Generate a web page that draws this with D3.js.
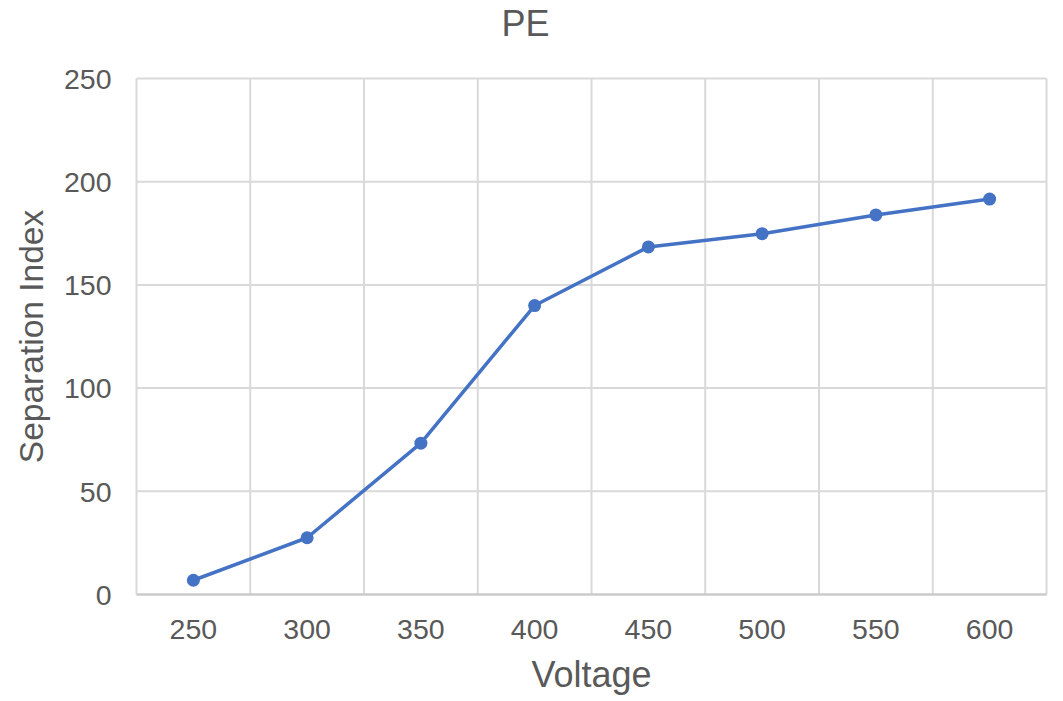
<!DOCTYPE html>
<meta charset="utf-8">
<script src="https://d3js.org/d3.v7.min.js"></script>
<style>
  body { margin: 0; background: #fff; }
  text { font-family: "Liberation Sans", Arial, sans-serif; fill: #595959; }
</style>
<div id="chart"></div>
<script>

// data
var voltages = ["250", "300", "350", "400", "450", "500", "550", "600"];
var sepIndex = [6.9, 27.5, 73.3, 140, 168.4, 174.8, 183.9, 191.6];
var yTicks = [0, 50, 100, 150, 200, 250];

var margin = {top: 78.5, right: 16.5, bottom: 106.5, left: 136.5},
  width = 1063 - margin.left - margin.right,
  height = 701 - margin.top - margin.bottom;

var svg = d3.select("#chart")
.append("svg")
  .attr("width", 1063)
  .attr("height", 701);

var g = svg.append("g")
  .attr("transform", "translate(" + margin.left + "," + margin.top + ")");

var x = d3.scaleBand()
  .domain(voltages)
  .range([0, width]);

var y = d3.scaleLinear()
  .domain([0, 250])
  .range([height, 0]);

// horizontal gridlines
g.selectAll(".hgrid")
  .data(yTicks)
  .enter()
  .append("line")
  .attr("x1", 0)
  .attr("x2", width)
  .attr("y1", function(d) { return y(d); })
  .attr("y2", function(d) { return y(d); })
  .style("stroke", "#d9d9d9")
  .style("stroke-width", 2);

// vertical gridlines at band edges
var edges = voltages.map(function(v) { return x(v); }).concat([width]);
g.selectAll(".vgrid")
  .data(edges)
  .enter()
  .append("line")
  .attr("x1", function(d) { return d; })
  .attr("x2", function(d) { return d; })
  .attr("y1", 0)
  .attr("y2", height)
  .style("stroke", "#d9d9d9")
  .style("stroke-width", 2);

// bottom axis line
g.append("line")
  .attr("x1", 0).attr("x2", width)
  .attr("y1", height).attr("y2", height)
  .style("stroke", "#c8c8c8")
  .style("stroke-width", 2);

// y tick labels
g.selectAll(".ylab")
  .data(yTicks)
  .enter()
  .append("text")
  .attr("x", -25)
  .attr("y", function(d) { return y(d); })
  .attr("dy", "0.36em")
  .style("text-anchor", "end")
  .style("font-size", "28.5px")
  .text(function(d) { return d; });

// x tick labels
g.selectAll(".xlab")
  .data(voltages)
  .enter()
  .append("text")
  .attr("x", function(d) { return x(d) + x.bandwidth() / 2; })
  .attr("y", height + 44.5)
  .style("text-anchor", "middle")
  .style("font-size", "28.5px")
  .text(function(d) { return d; });

var pts = voltages.map(function(v, i) { return {v: v, s: sepIndex[i]}; });

var line = d3.line()
  .x(function(d) { return x(d.v) + x.bandwidth() / 2; })
  .y(function(d) { return y(d.s); });

g.append("path")
  .datum(pts)
  .attr("d", line)
  .style("fill", "none")
  .style("stroke", "#4472c4")
  .style("stroke-width", 3.5)
  .style("stroke-linejoin", "round");

g.selectAll(".dot")
  .data(pts)
  .enter()
  .append("circle")
  .attr("cx", function(d) { return x(d.v) + x.bandwidth() / 2; })
  .attr("cy", function(d) { return y(d.s); })
  .attr("r", 6.5)
  .style("fill", "#4472c4");

// titles
svg.append("text")
  .attr("x", 525.5)
  .attr("y", 35.5)
  .style("text-anchor", "middle")
  .style("font-size", "36px")
  .text("PE");

svg.append("text")
  .attr("x", margin.left + width / 2)
  .attr("y", 687)
  .style("text-anchor", "middle")
  .style("font-size", "36px")
  .text("Voltage");

svg.append("text")
  .attr("transform", "translate(43," + (margin.top + height / 2) + ") rotate(-90)")
  .style("text-anchor", "middle")
  .style("font-size", "33.5px")
  .text("Separation Index");

</script>
